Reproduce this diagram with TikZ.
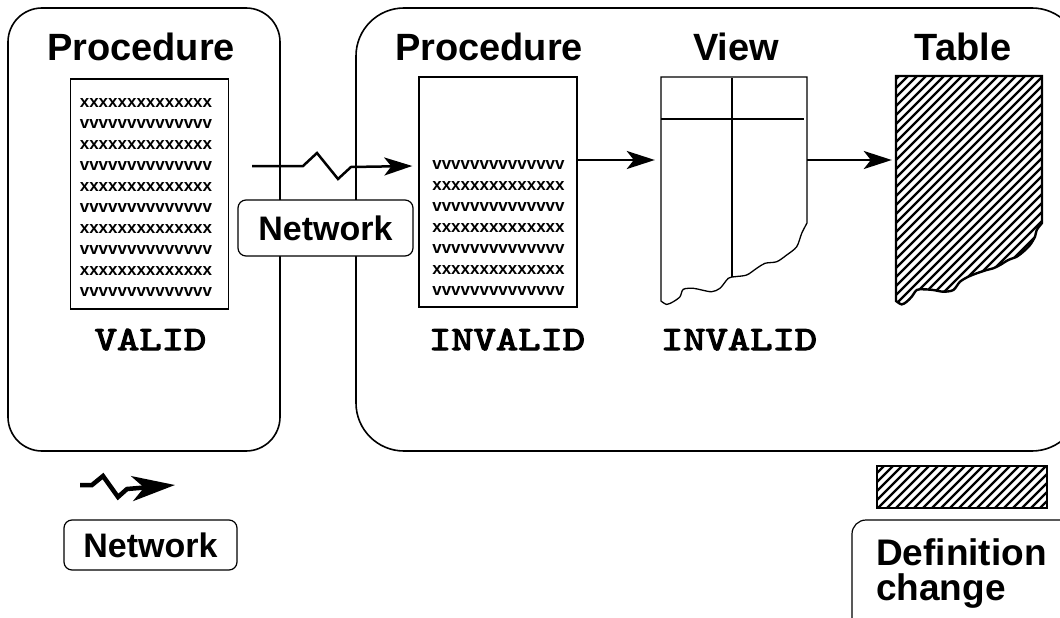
\documentclass[tikz,border=0pt]{standalone}
\usepackage{fontspec}
\setmainfont{Liberation Sans}
\newfontfamily\statefont{lmmono10-regular.otf}[FakeBold=3]
\usetikzlibrary{arrows.meta}

\newcommand{\xrow}{xxxxxxxxxxxxxx}
\newcommand{\vrow}{vvvvvvvvvvvvvv}
\newcommand{\tableedge}{(896,76) -- (1042,76) -- plot[smooth] coordinates {(1042,223)
        (1036.7,230) (1035,236.7) (1030,245) (1023.3,251.7) (1016.7,256.7) (1008.3,260)
        (1000,265) (993.3,268.3) (986.7,270) (976.7,273.3) (968.3,276.7) (960,281.7)
        (953.3,290) (943.3,291.7) (933.3,290) (923.3,289.3) (916.7,290) (911.7,296.7)
        (906.7,301.7) (901.7,304.4) (896,301)} -- cycle}

\tikzset{
    frame/.style={line width=1.6pt},
    title/.style={font=\bfseries\fontsize{38}{40}\selectfont, anchor=base},
    validity/.style={font=\statefont\fontsize{34}{36}\selectfont, anchor=base},
    doc/.style={draw, line width=1.4pt, minimum width=158pt, minimum height=230pt},
    codeline/.style={font=\bfseries\fontsize{17}{17}\selectfont, inner sep=0pt},
    netbox/.style={draw, fill=white, line width=1.2pt, rounded corners=8pt,
        font=\bfseries\fontsize{34}{36}\selectfont, inner sep=0pt},
    stripe/.style={line width=2.4pt},
    flow/.style={line width=2.5pt, -{Stealth[length=28pt, width=18pt, inset=7pt]}}
}

\begin{document}
\begin{tikzpicture}[x=1pt,y=-1pt]
    \path[use as bounding box, clip] (0,0) rectangle (1060,618);

    \draw[frame, rounded corners=34pt] (8,8) rectangle (280,451);
    \draw[frame, rounded corners=48pt] (356,8) rectangle (1080,451);

    \node[title] (ttlproc) at (141,60) {Procedure};
    \node[title] (ttlrproc) at (489,60) {Procedure};
    \node[title] (ttlview) at (736,60) {View};
    \node[title] (ttltable) at (963,60) {Table};

    \node[doc] (ldoc) at (149.5,194) {};
    \foreach \t [count=\i from 0] in {\xrow,\vrow,\xrow,\vrow,\xrow,\vrow,\xrow,\vrow,\xrow,\vrow}
        \node[codeline] (lline\i) at (146,103+21*\i) {\t};

    \node[doc] (pdoc) at (498,192) {};
    \foreach \t [count=\i from 0] in {\vrow,\xrow,\vrow,\xrow,\vrow,\xrow,\vrow}
        \node[codeline] (pline\i) at (498.5,165+21*\i) {\t};

    \node[minimum width=146pt, minimum height=228pt, inner sep=0pt] (view) at (734,190) {};
    \draw[line width=1.3pt] (661,77) -- (807,77) -- plot[smooth] coordinates {(807,223)
        (801.7,233.3) (796.7,246.7) (786.7,255) (776.7,261.7) (765,263.3) (756.7,268.3)
        (746.7,275) (735,276.7) (728.3,278.3) (720,288.3) (711.7,291.7) (701.7,290)
        (693.3,288.3) (683.3,289.3) (680,296.7) (673.3,301.7) (666.7,304.4) (661,301)} -- cycle;
    \draw[line width=1.2pt] (661,119) -- (804,119);
    \draw[line width=1.2pt] (732,78) -- (732,277);

    \node[minimum width=146pt, minimum height=228pt, inner sep=0pt] (tbl) at (969,190) {};
    \begin{scope}
        \clip \tableedge;
        \foreach \k in {-250,-241,...,160}
            \draw[stripe] (896+\k,320) -- ++(260,-260);
    \end{scope}
    \draw[line width=2.4pt] \tableedge;

    \node[validity] (valid) at (150.5,350) {\scalebox{1.25}[1]{VALID}};
    \node[validity] (pinvalid) at (507,350) {\scalebox{1.25}[1]{INVALID}};
    \node[validity] (vinvalid) at (739,350) {\scalebox{1.25}[1]{INVALID}};

    \coordinate (arrowrow) at (0,160);
    \draw[flow] (pdoc.east |- arrowrow) -- ([xshift=-6pt]view.west |- arrowrow);
    \draw[flow] (view.east |- arrowrow) -- ([xshift=-4pt]tbl.west |- arrowrow);

    \coordinate (netstart) at (252,166);
    \draw[flow, line join=miter] (netstart) -- ++(51,0) -- ++(14,-13) -- ++(21,26) -- ++(13,-12)
        -- ([xshift=-6pt]pdoc.west |- netstart);
    \node[netbox, minimum width=175pt, minimum height=56pt] (netmid) at (325.5,228) {Network};

    \coordinate (legstart) at (80,485);
    \coordinate (legtip) at (175,485);
    \draw[line width=4.5pt, line join=miter, -{Stealth[length=43pt, width=25pt, inset=12pt]}]
        (legstart) -- ++(12,0) -- ++(11,-9) -- ++(15,21) -- ++(9,-8) -- (legtip);
    \node[netbox, minimum width=173pt, minimum height=50pt] (netkey) at (150.5,545) {Network};

    \begin{scope}
        \clip (877,466) rectangle (1047,508);
        \foreach \k in {-60,-51,...,180}
            \draw[stripe] (877+\k,515) -- ++(60,-60);
    \end{scope}
    \draw[line width=1.4pt] (877,466) rectangle (1047,508);
    \draw[line width=1.2pt, rounded corners=14pt] (852,520) rectangle (1100,700);
    \node[font=\bfseries\fontsize{37}{35}\selectfont, align=left, anchor=base west, inner sep=0pt]
        (defkey) at (876,600) {Definition\\change};
\end{tikzpicture}
\end{document}
